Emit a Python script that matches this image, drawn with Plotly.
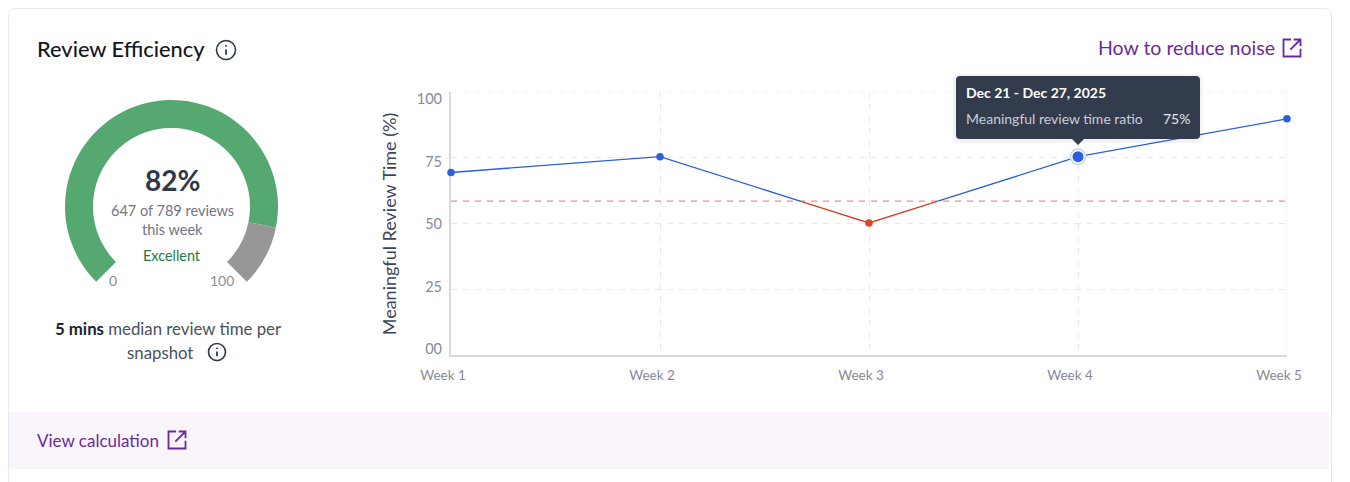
import plotly.graph_objects as go

W, H = 1350, 482

# data
weeks = ["Week 1", "Week 2", "Week 3", "Week 4", "Week 5"]
ratio = [69.4, 75.4, 50.2, 75.4, 89.8]
threshold = 58.5
point_colors = ["#2b5fdc", "#2b5fdc", "#d4492a", "#2b5fdc", "#2b5fdc"]
y_ticks = [0, 25, 50, 75, 100]
y_labels = ["00", "25", "50", "75", "100"]
gauge_labels = ["score", "rest", "gap"]
gauge_values = [236.5, 33.5, 90]
gauge_colors = ["#55a870", "#979797", "rgba(0,0,0,0)"]

FONT = "Lato"
BLUE = "#2b5fdc"
RED = "#cf432c"
PURPLE = "#6b2a9b"
NAVY = "#2c3650"
GRID = "#e6e8ec"


def fx(x):
    return x / W


def fy(y):
    return 1 - y / H


def p(x, y):
    return f"{fx(x):.5f},{fy(y):.5f}"


def round_rect(x0, y0, x1, y1, r):
    return (f"M{p(x0 + r, y0)} L{p(x1 - r, y0)} Q{p(x1, y0)} {p(x1, y0 + r)} "
            f"L{p(x1, y1 - r)} Q{p(x1, y1)} {p(x1 - r, y1)} L{p(x0 + r, y1)} "
            f"Q{p(x0, y1)} {p(x0, y1 - r)} L{p(x0, y0 + r)} Q{p(x0, y0)} {p(x0 + r, y0)} Z")


shapes = []
notes = []


def path(d, fill=None, line=None, width=1, layer="above"):
    shapes.append(dict(type="path", path=d, xref="paper", yref="paper", layer=layer,
                       fillcolor=fill or "rgba(0,0,0,0)",
                       line=dict(color=line or "rgba(0,0,0,0)", width=width)))


def text(x, y, s, size=14, color="#333", anchor="center", weight="normal"):
    notes.append(dict(x=fx(x), y=fy(y), xref="paper", yref="paper", text=s, showarrow=False,
                      xanchor=anchor, yanchor="middle", align=anchor,
                      font=dict(family=FONT, size=size, color=color, weight=weight)))


def info_icon(cx, cy, r):
    shapes.append(dict(type="circle", xref="paper", yref="paper",
                       x0=fx(cx - r), x1=fx(cx + r), y0=fy(cy + r), y1=fy(cy - r),
                       line=dict(color=NAVY, width=1.6)))
    path(f"M{p(cx, cy - 0.5)} L{p(cx, cy + r * 0.5)}", line=NAVY, width=1.8)
    path(f"M{p(cx, cy - r * 0.5)} L{p(cx, cy - r * 0.36)}", line=NAVY, width=2)


def link_icon(x0, y0, s):
    x1, y1 = x0 + s, y0 + s
    path(f"M{p(x0 + s * 0.45, y0)} L{p(x0, y0)} L{p(x0, y1)} L{p(x1, y1)} L{p(x1, y0 + s * 0.55)}",
         line=PURPLE, width=1.8)
    path(f"M{p(x0 + s * 0.4, y0 + s * 0.6)} L{p(x1, y0)} M{p(x0 + s * 0.6, y0)} L{p(x1, y0)} L{p(x1, y0 + s * 0.4)}",
         line=PURPLE, width=1.8)


# card and footer band
path(round_rect(8.5, 8.5, 1331.5, 520, 8), line="#e7e9ee", width=1, layer="below")
shapes.append(dict(type="rect", xref="paper", yref="paper", layer="below",
                   x0=fx(9), x1=fx(1329), y0=fy(469), y1=fy(412),
                   fillcolor="#f9f5fb", line_width=0))

# plotly drops the grid lines at the ends of an axis
shapes.append(dict(type="line", layer="below", xref="x", yref="y",
                   x0=weeks[0], x1=weeks[-1], y0=y_ticks[-1], y1=y_ticks[-1],
                   line=dict(color=GRID, width=1, dash="6px,6px")))
shapes.append(dict(type="line", layer="below", xref="x", yref="y",
                   x0=weeks[-1], x1=weeks[-1], y0=y_ticks[0], y1=y_ticks[-1],
                   line=dict(color="#e3e6ec", width=1)))

# tooltip
path(round_rect(953, 74, 1203, 143, 6), fill="rgba(40,50,70,0.06)")
path(round_rect(956, 76, 1200, 139, 4), fill="#333c4d")
path(f"M{p(1072, 139)} L{p(1078, 145)} L{p(1084, 139)} Z", fill="#333c4d")

text(35, 49, "Review Efficiency", 21.8, "#15181f", "left", weight=500)
info_icon(226, 50, 9.5)
text(1277, 48, "How to reduce noise", 19.5, PURPLE, "right")
link_icon(1283.5, 39.5, 17)
text(35, 440, "View calculation", 17, PURPLE, "left")
link_icon(168.5, 431.5, 17)

text(172, 180, "<b>82%</b>", 28, "#2f3748")
text(172, 210, "647 of 789 reviews", 14.5, "#6f7582")
text(172, 229, "this week", 14.5, "#6f7582")
text(172, 255, "Excellent", 14.4, "#1d7a47")
text(113, 280, "0", 14, "#8a8f99")
text(222.5, 280, "100", 14, "#8a8f99")
text(168, 328, "<span style='color:#1c2230'><b>5 mins</b></span> median review time per", 16.8, "#4a5160")
text(160, 352, "snapshot", 16.8, "#4a5160")
info_icon(217, 352, 8.5)

text(964, 93, "<b>Dec 21 - Dec 27, 2025</b>", 14, "#ffffff", "left")
text(964, 118, "Meaningful review time ratio", 14, "#c8ced9", "left")
text(1192, 118, "75%", 14, "#e3e6ec", "right")

fig = go.Figure()

fig.add_trace(go.Pie(labels=gauge_labels, values=gauge_values, hole=0.737, sort=False,
                     direction="clockwise", rotation=225, textinfo="none", hoverinfo="skip",
                     marker=dict(colors=gauge_colors, line=dict(width=0)), showlegend=False,
                     domain=dict(x=[fx(65), fx(278)], y=[fy(313), fy(100)])))

fig.add_trace(go.Scatter(x=weeks, y=[threshold] * len(weeks), mode="lines", hoverinfo="skip",
                         line=dict(color="#e58f8b", width=1.4, dash="6px,6px")))
# same series twice, each clipped to its side of the threshold by its own y axis
fig.add_trace(go.Scatter(x=weeks, y=ratio, xaxis="x2", yaxis="y2", mode="lines", hoverinfo="skip",
                         line=dict(color=RED, width=1.3)))
fig.add_trace(go.Scatter(x=weeks, y=ratio, xaxis="x3", yaxis="y3", mode="lines", hoverinfo="skip",
                         line=dict(color=BLUE, width=1.3)))
# the fourth axis only carries labels, so it needs something plotted on it
fig.add_trace(go.Scatter(x=weeks[:1], y=y_ticks[:1], xaxis="x4", yaxis="y4", mode="markers",
                         hoverinfo="skip", marker=dict(size=1, opacity=0)))
fig.add_trace(go.Scatter(x=weeks[3:4], y=ratio[3:4], xaxis="x5", yaxis="y5", mode="markers",
                         hoverinfo="skip", cliponaxis=False,
                         marker=dict(size=17, color="#cbd8f6", opacity=1)))
fig.add_trace(go.Scatter(x=weeks[3:4], y=ratio[3:4], xaxis="x5", yaxis="y5", mode="markers",
                         hoverinfo="skip", cliponaxis=False,
                         marker=dict(size=13.5, color="#ffffff", opacity=1)))
fig.add_trace(go.Scatter(x=weeks, y=ratio, xaxis="x5", yaxis="y5", mode="markers", cliponaxis=False,
                         marker=dict(size=[7.5, 7.5, 7.5, 11, 7.5], color=point_colors,
                                     opacity=1, line=dict(width=0))))

plot_bottom = fy(355)
plot_top = fy(92)
split = plot_bottom + (plot_top - plot_bottom) * threshold / 100
x_domain = [fx(451), fx(1287)]
hidden_x = dict(domain=x_domain, type="category", categoryorder="array", categoryarray=weeks,
                range=[0, 4], visible=False)

fig.update_layout(
    width=W, height=H, autosize=False, showlegend=False,
    margin=dict(l=0, r=0, t=0, b=0, autoexpand=False), paper_bgcolor="white",
    plot_bgcolor="rgba(0,0,0,0)", font=dict(family=FONT),
    shapes=shapes, annotations=notes,
    xaxis=dict(domain=x_domain, type="category", categoryorder="array",
               categoryarray=weeks, range=[0, 4], showline=True, linecolor="#d5dae3", linewidth=1.5,
               showgrid=True, gridcolor=GRID, griddash="6px,6px", gridwidth=1, zeroline=False,
               ticks="", ticklabelshift=-8, ticklabelstandoff=7, automargin=False,
               tickfont=dict(size=13.5, color="#858b96")),
    xaxis2=dict(hidden_x, anchor="y2"),
    xaxis3=dict(hidden_x, anchor="y3"),
    xaxis4=dict(hidden_x, anchor="y4"),
    xaxis5=dict(hidden_x, anchor="y5"),
    yaxis=dict(domain=[plot_bottom, plot_top], range=[0, 100], tickvals=y_ticks, automargin=False,
               showticklabels=False, showline=True, linecolor="#d5dae3", linewidth=1.5,
               showgrid=True, gridcolor=GRID, griddash="6px,6px", zeroline=False, ticks=""),
    yaxis2=dict(domain=[plot_bottom, split], range=[0, threshold], anchor="x2", visible=False),
    yaxis3=dict(domain=[split, plot_top], range=[threshold, 100], anchor="x3", visible=False),
    # tick labels sit on their own even spacing, not on the grid lines
    yaxis4=dict(domain=[fy(349), fy(99)], range=[0, 100], tickvals=y_ticks, ticktext=y_labels,
                anchor="free", position=fx(451), showgrid=False, zeroline=False,
                showline=False, ticks="", ticklabelstandoff=9, automargin=False,
                tickfont=dict(size=14.5, color="#858b96"),
                title=dict(text="Meaningful Review Time (%)", standoff=14,
                           font=dict(size=18, color="#3d4658"))),
    yaxis5=dict(domain=[plot_bottom, plot_top], range=[0, 100], anchor="x5", visible=False),
)

fig.write_html("out.html", config=dict(displayModeBar=False),
               post_script="document.body.style.margin='0';")
